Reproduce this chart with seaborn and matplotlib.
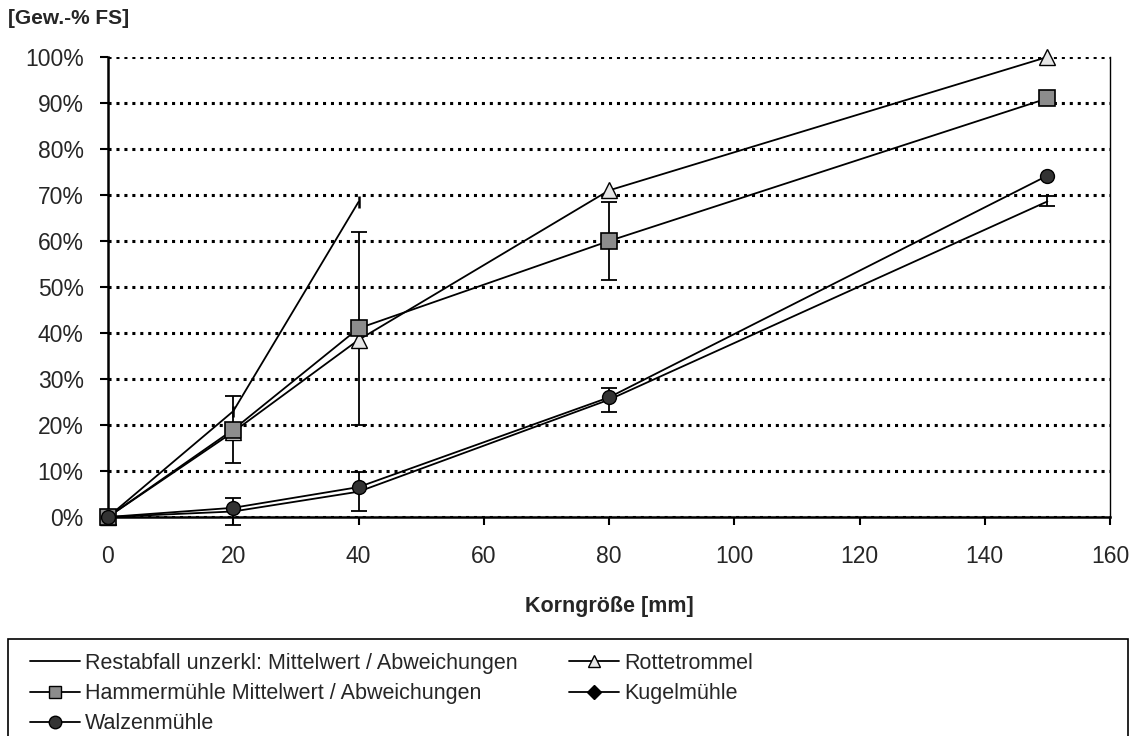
import numpy as np
import pandas as pd
import seaborn as sns
import matplotlib
matplotlib.use("Agg")
import matplotlib.pyplot as plt
from matplotlib.lines import Line2D
from matplotlib.patches import Rectangle

# ---- data ----
x_rest = [0, 20, 40]
y_rest = [0, 23, 68.5]
e_rest = [0, 1.2, 1.3]

x_all = [0, 20, 40, 80, 150]
y_hammer = [0, 19, 41, 60, 91]
e_hammer = [0, 7.2, 21, 8.5, 0]
y_rotte = [0, 18.5, 38.5, 71, 100]
y_kugel = [0, 1.2, 5.5, 25.5, 68.6]
e_kugel = [0, 2.9, 4.2, 2.6, 1.1]
y_walzen = [0, 2, 6.5, 26, 74.2]

labels = ["Restabfall unzerkl: Mittelwert / Abweichungen",
          "Hammermühle Mittelwert / Abweichungen",
          "Walzenmühle",
          "Rottetrommel",
          "Kugelmühle"]
x_ticks = [0, 20, 40, 60, 80, 100, 120, 140, 160]
y_ticks = [0, 10, 20, 30, 40, 50, 60, 70, 80, 90, 100]

sns.set_theme(style="white")
plt.rcParams['font.family'] = ['Liberation Sans', 'DejaVu Sans']

fig = plt.figure(figsize=(11.37, 7.36), dpi=100)
ax = fig.add_axes([108/1137, 1-517/736, (1110-108)/1137, (517-57)/736])

lw = 1.3
# Restabfall
sns.lineplot(x=x_rest, y=y_rest, ax=ax, color="black", lw=lw, zorder=3)
ax.errorbar(x_rest, y_rest, yerr=e_rest, fmt="none", ecolor="black", elinewidth=1.8,
            capsize=0, zorder=3, clip_on=False)
# Kugelmühle (line, markers hidden)
sns.lineplot(x=x_all, y=y_kugel, ax=ax, color="black", lw=lw, zorder=3)
ax.errorbar(x_all, y_kugel, yerr=e_kugel, fmt="none", ecolor="black", elinewidth=1.3,
            capsize=6, capthick=1.3, zorder=3, clip_on=False)
# Walzenmühle
sns.lineplot(x=x_all, y=y_walzen, ax=ax, color="black", lw=lw, marker="o",
             markersize=10, markerfacecolor="#333333", markeredgecolor="black",
             markeredgewidth=1, zorder=4)
# Rottetrommel
sns.lineplot(x=x_all, y=y_rotte, ax=ax, color="black", lw=lw, marker="^",
             markersize=12, markerfacecolor="#e6e6e6", markeredgecolor="black",
             markeredgewidth=1, zorder=4)
# Hammermühle
ax.errorbar(x_all, y_hammer, yerr=e_hammer, fmt="none", ecolor="black", elinewidth=1.3,
            capsize=6, capthick=1.3, zorder=3, clip_on=False)
sns.lineplot(x=x_all, y=y_hammer, ax=ax, color="black", lw=lw, marker="s",
             markersize=11, markerfacecolor="#8c8c8c", markeredgecolor="black",
             markeredgewidth=1.2, zorder=5)
# walzen marker at origin on top
ax.plot(x_all[:1], y_walzen[:1], marker="o", markersize=10, markerfacecolor="#333333",
        markeredgecolor="black", ls="none", zorder=6, clip_on=False)
for l in ax.lines:
    l.set_clip_on(False)

ax.set_xlim(0, 160)
ax.set_ylim(0, 100)
ax.set_xticks(x_ticks)
ax.set_xticklabels([str(t) for t in x_ticks])
ax.set_yticks(y_ticks)
ax.set_yticklabels([f"{t}%" for t in y_ticks])
ax.yaxis.grid(True, color="black", linestyle=(0, (1, 1.6)), linewidth=2.2, zorder=1)
ax.xaxis.grid(False)
ax.set_axisbelow(True)
for s in ["left", "bottom", "right"]:
    ax.spines[s].set_visible(True)
    ax.spines[s].set_color("black")
ax.spines["left"].set_linewidth(1.8)
ax.spines["bottom"].set_linewidth(1.8)
ax.spines["right"].set_linewidth(1.0)
ax.spines["top"].set_visible(False)
ax.tick_params(axis="y", direction="out", length=6, width=1.5, color="black",
               pad=11.5, labelsize=16.5, left=True)
ax.tick_params(axis="x", direction="out", length=6, width=1.5, color="black",
               pad=14, labelsize=16.5, bottom=True)
ax.set_xlabel("Korngröße [mm]", fontsize=15.5, fontweight="bold", labelpad=20)
ax.set_ylabel("")
fig.text(8/1137, 1-18/736, "[Gew.-% FS]", fontsize=15, fontweight="bold",
         ha="left", va="center")

# legend
handles = [
    Line2D([], [], color="black", lw=lw),
    Line2D([], [], color="black", lw=lw, marker="s", markersize=9,
           markerfacecolor="#8c8c8c", markeredgecolor="black"),
    Line2D([], [], color="black", lw=lw, marker="o", markersize=9,
           markerfacecolor="#333333", markeredgecolor="black"),
    Line2D([], [], color="black", lw=lw, marker="^", markersize=9,
           markerfacecolor="#e6e6e6", markeredgecolor="black"),
    Line2D([], [], color="black", lw=lw, marker="D", markersize=7,
           markerfacecolor="black", markeredgecolor="black"),
]
fig.patches.append(Rectangle((8/1137, -0.02), (1128-8)/1137, (736-639)/736+0.02,
                             transform=fig.transFigure, fill=False,
                             edgecolor="black", linewidth=1.2))
fig.legend(handles, labels, ncol=2, loc="upper left",
           bbox_to_anchor=(30/1137, 1-653/736), frameon=False,
           fontsize=15.5, handlelength=2.3, handletextpad=0.25,
           columnspacing=2.4, labelspacing=0.42, borderpad=0, borderaxespad=0)

fig.savefig("out.png", dpi=100)
